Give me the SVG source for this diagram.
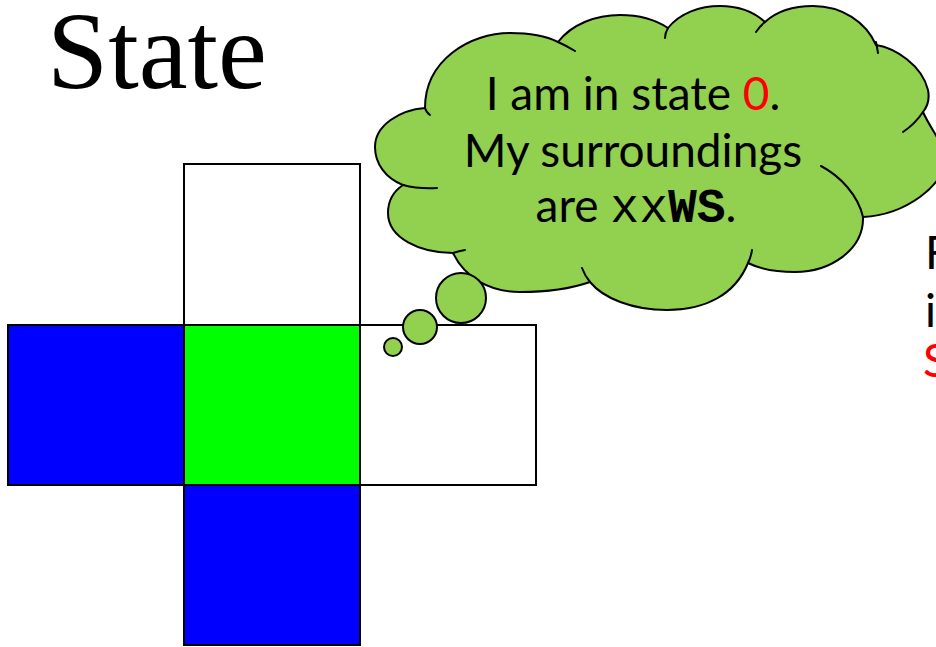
<svg xmlns="http://www.w3.org/2000/svg" width="936" height="647" viewBox="0 0 936 647">
<style>
.cell{stroke:#000;stroke-width:2}
.cloud{fill:#92D050;stroke:#000;stroke-width:2}
.inner{fill:none;stroke:#000;stroke-width:2;stroke-linecap:round}
.txt{font-family:Lato,"Open Sans",sans-serif;font-size:46px;fill:#000}
.mono{font-family:"Liberation Mono","Courier New",monospace;font-size:48px}
.red{fill:#FF0000}
</style>
<rect width="936" height="647" fill="#fff"/>
<text id="title" x="47" y="88" style="font-family:'Liberation Serif','Times New Roman',serif;font-size:110px;fill:#000">State</text>
<g id="grid">
<rect id="north" class="cell" x="184" y="164" width="176" height="161" fill="#fff"/>
<rect id="west" class="cell" x="8" y="325" width="176" height="160" fill="#0000FF"/>
<rect id="center" class="cell" x="184" y="325" width="176" height="160" fill="#00FF00"/>
<rect id="east" class="cell" x="360" y="325" width="176" height="160" fill="#fff"/>
<rect id="south" class="cell" x="184" y="485" width="176" height="160" fill="#0000FF"/>
</g>
<g id="thought">
<path class="cloud" d="M 425,108 C 425,60 470,33 510,33 C 532,33 548,37 558,42 C 572,24 596,15 620,15 C 640,15 656,20 668,28 C 680,13 700,6 720,6 C 738,6 754,12 765,22 C 778,10 795,6 813,6 C 842,6 866,22 876,45 C 895,48 922,65 928,90 C 930,100 927,107 923,112 C 930,128 944,145 946,157 C 946,185 905,215 863,217 C 864,250 830,272 795,272 C 775,272 758,268 748,263 C 735,295 705,310 667,310 C 632,310 603,298 590,282 C 570,289 548,292 520,292 C 490,292 465,278 453,253 C 420,253 388,238 388,213 C 388,200 394,191 403,185 C 385,178 375,163 375,147 C 375,125 400,110 425,108 Z"/>
<path class="inner" d="M 425,108 Q 426,112 430,115 M 558,42 Q 567,46 575,51 M 668,28 Q 665,33 665,38 M 765,22 Q 760,26 756,32 M 876,42 Q 877,47 878,53 M 923,112 Q 915,124 903,132 M 821,166 C 840,176 858,195 863,217 M 748,263 Q 751,257 752,250 M 590,282 Q 585,276 582,268 M 453,253 Q 459,251 465,250 M 403,185 Q 418,189 437,188"/>
<circle class="cloud" cx="461" cy="298" r="25"/>
<circle class="cloud" cx="420" cy="327" r="17"/>
<circle class="cloud" cx="393" cy="347" r="9"/>
<text class="txt" text-anchor="middle"><tspan x="633" y="110">I am in state <tspan class="red">0</tspan>.</tspan><tspan x="633" y="167">My surroundings</tspan><tspan x="636" y="222">are <tspan class="mono">xx</tspan><tspan class="mono" font-weight="bold">WS</tspan>.</tspan></text>
</g>
<g id="side-text">
<text class="txt" x="925" y="269">F</text>
<text class="txt" x="925" y="327">it</text>
<text class="txt red" x="923" y="377">S</text>
</g>
</svg>
